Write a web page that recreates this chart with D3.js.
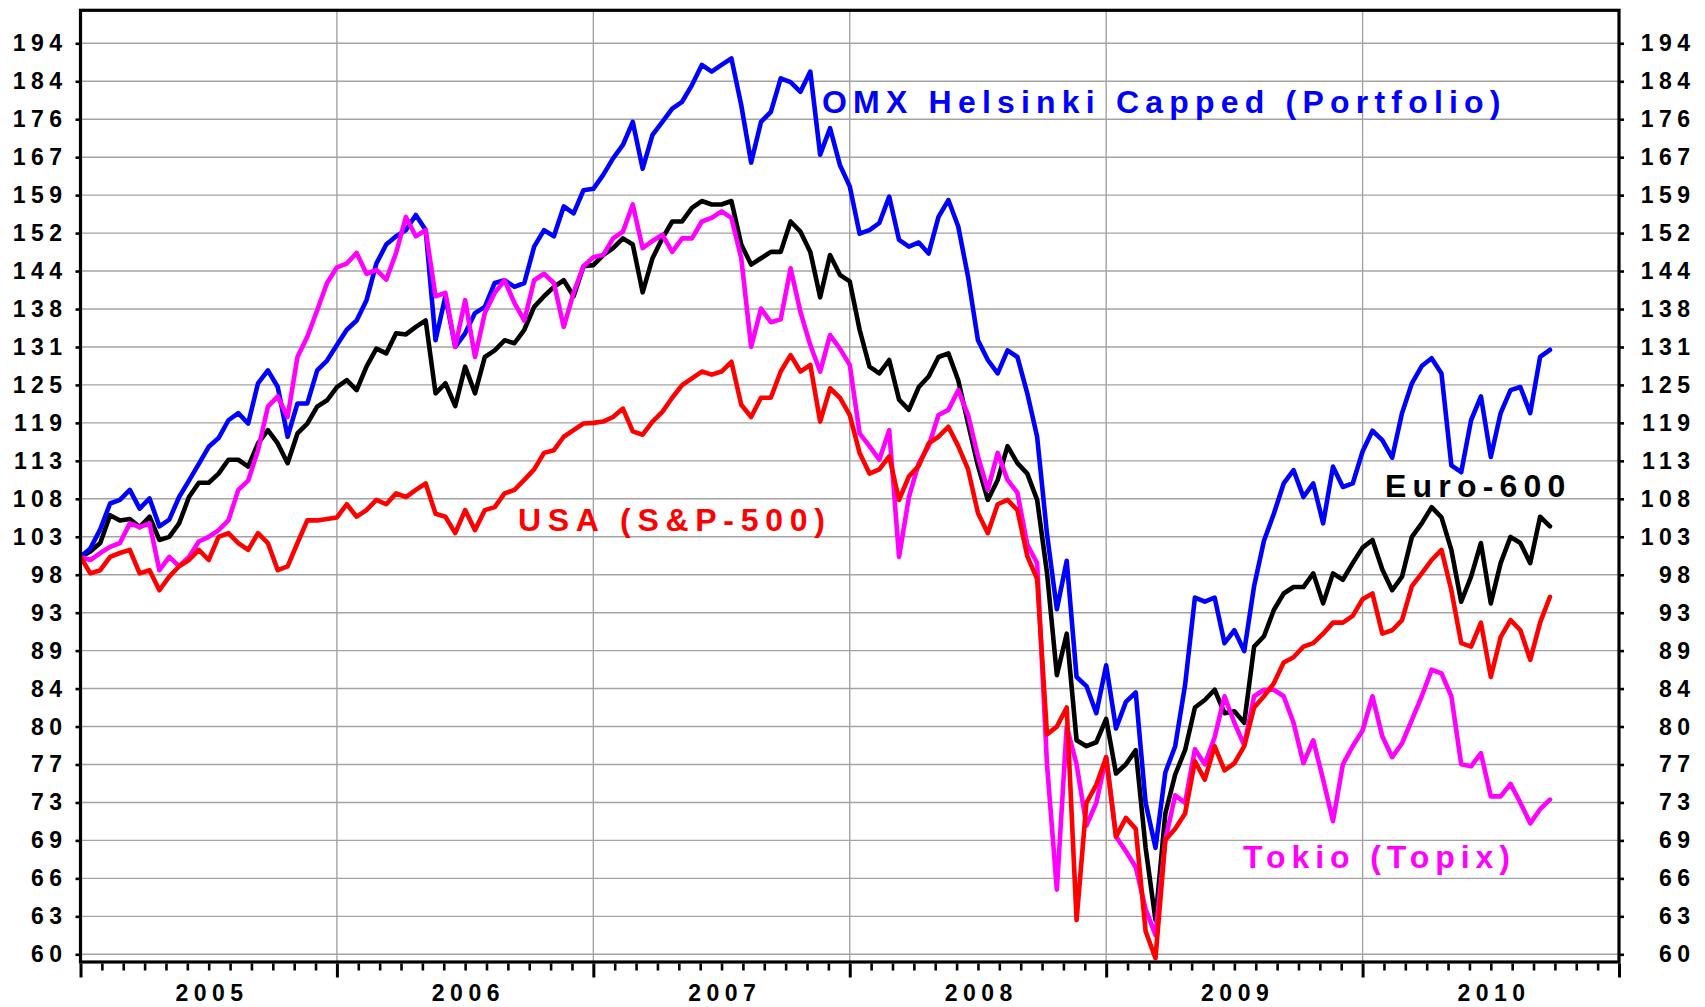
<!DOCTYPE html>
<html>
<head>
<meta charset="utf-8">
<script src="https://cdn.jsdelivr.net/npm/d3@7"></script>
<style>
  body { margin: 0; background: #fff; }
  svg { display: block; }
</style>
</head>
<body>
<svg id="chart" width="1705" height="1007"></svg>
<script>
// ---- data (index, start of 2005 = 100), one sample every two weeks ----
const years = [2005, 2006, 2007, 2008, 2009, 2010];
const yearLabels = ["2005", "2006", "2007", "2008", "2009", "2010"];
const samplesPerYear = 26;

const tickValues = [60, 63, 66.15, 69.46, 72.93, 76.58, 80.41, 84.43, 88.65, 93.08, 97.73, 102.62,
  107.75, 113.14, 118.8, 124.74, 130.97, 137.52, 144.4, 151.62, 159.2, 167.16, 175.52, 184.29, 193.51];
const tickLabels = ["60", "63", "66", "69", "73", "77", "80", "84", "89", "93", "98", "103",
  "108", "113", "119", "125", "131", "138", "144", "152", "159", "167", "176", "184", "194"];

const omx = [
  100, 101.1, 103.6, 107.1, 107.6, 109.0, 106.4, 107.8, 104.0, 104.9, 108.0, 110.3, 112.7, 115.2, 116.5, 119.2, 120.3, 118.7, 125.0, 127.1, 124.4, 116.7, 121.8, 121.8, 127.1, 128.7,
  131.3, 133.9, 135.5, 139.1, 145.8, 149.4, 151.0, 152.2, 155.2, 152.2, 132.1, 139.8, 131.0, 133.3, 136.8, 137.9, 142.2, 142.7, 141.5, 142.2, 149.0, 152.2, 151.0, 156.9, 155.5, 160.2,
  160.5, 163.4, 166.9, 169.8, 174.9, 164.7, 172.0, 174.9, 177.9, 179.5, 183.4, 188.2, 186.6, 188.2, 189.8, 178.7, 166.0, 174.9, 177.2, 185.0, 184.1, 181.8, 186.6, 167.7, 173.5, 165.5,
  161.0, 151.5, 152.2, 153.6, 158.9, 150.3, 149.0, 149.8, 147.7, 154.8, 158.2, 152.9, 143.3, 132.1, 128.8, 126.6, 130.4, 129.3, 123.4, 116.7, 103.0, 93.5, 99.5, 85.7, 84.7, 81.8,
  87.0, 80.2, 83.0, 84.0, 72.9, 68.8, 75.8, 78.4, 84.8, 94.9, 94.4, 94.9, 89.5, 91.0, 88.6, 96.3, 102.1, 105.7, 109.9, 111.8, 108.0, 109.9, 104.4, 112.3, 109.4, 109.9,
  114.5, 117.6, 116.2, 113.6, 120.3, 125.0, 127.8, 129.1, 126.6, 112.5, 111.5, 119.2, 122.9, 113.7, 120.3, 123.9, 124.4, 120.3, 129.3, 130.5
];

const euro600 = [
  100, 100.7, 101.8, 105.5, 104.8, 105.0, 103.9, 105.3, 102.2, 102.6, 104.4, 108.0, 110.0, 110.0, 111.3, 113.3, 113.3, 112.3, 115.7, 117.7, 115.7, 112.8, 117.2, 118.7, 121.3, 122.3,
  124.4, 125.5, 123.9, 127.7, 130.7, 129.9, 133.3, 133.1, 134.4, 135.5, 123.4, 125.0, 121.4, 127.7, 123.4, 129.3, 130.4, 132.1, 131.6, 133.9, 137.9, 139.8, 141.5, 142.7, 139.8, 145.3,
  145.5, 147.4, 148.7, 150.6, 149.4, 140.5, 146.8, 150.6, 153.9, 153.9, 156.6, 158.0, 157.3, 157.3, 158.0, 149.4, 145.6, 146.8, 148.0, 148.0, 153.9, 151.9, 148.0, 139.6, 147.4, 143.7,
  142.5, 133.9, 127.7, 126.6, 128.8, 122.4, 120.8, 124.4, 126.1, 129.3, 129.9, 125.5, 118.7, 112.4, 107.6, 110.4, 115.3, 112.8, 111.3, 107.6, 98.0, 85.9, 90.6, 79.0, 78.4, 78.8,
  81.2, 75.7, 76.6, 78.0, 68.8, 62.7, 71.9, 75.6, 78.0, 82.4, 83.2, 84.3, 81.8, 82.0, 80.8, 89.1, 90.3, 93.4, 95.4, 96.2, 96.2, 97.9, 94.2, 97.9, 97.1, 99.2,
  101.2, 102.2, 98.4, 95.8, 97.5, 102.6, 104.4, 106.6, 105.2, 100.9, 94.4, 97.5, 101.8, 94.2, 99.2, 102.6, 101.8, 99.2, 105.3, 104.0
];

const topix = [
  100, 99.6, 100.5, 101.3, 101.8, 104.4, 103.9, 104.4, 98.3, 100.0, 98.8, 100.0, 102.0, 102.6, 103.5, 104.8, 109.0, 110.3, 114.7, 121.3, 122.9, 119.7, 129.3, 132.7, 137.3, 142.2,
  145.1, 145.8, 147.8, 143.9, 144.6, 142.8, 147.8, 154.8, 151.0, 152.2, 139.8, 140.4, 131.0, 139.1, 129.3, 136.8, 140.4, 142.7, 138.6, 135.5, 142.7, 143.9, 142.2, 134.4, 140.4, 145.3,
  147.0, 147.4, 150.6, 151.9, 157.3, 148.7, 150.1, 151.3, 148.0, 150.6, 150.6, 153.9, 154.6, 155.9, 154.6, 146.8, 131.0, 137.6, 135.2, 135.7, 144.9, 137.0, 131.3, 126.9, 133.0, 130.7,
  128.0, 117.2, 115.3, 113.3, 117.7, 100.0, 108.0, 112.8, 115.3, 120.0, 120.8, 123.9, 120.0, 113.8, 109.0, 114.3, 110.4, 108.6, 101.6, 99.2, 76.6, 65.2, 80.4, 76.6, 70.8, 72.9,
  77.3, 69.8, 68.5, 67.1, 63.6, 61.5, 69.5, 73.6, 72.9, 78.1, 76.6, 79.3, 83.6, 80.8, 78.5, 83.6, 84.3, 84.3, 83.6, 80.8, 76.7, 79.0, 75.1, 71.2, 76.6, 78.4,
  80.0, 83.6, 79.4, 77.3, 78.7, 81.1, 83.6, 86.5, 86.1, 83.6, 76.6, 76.4, 77.7, 73.5, 73.5, 74.7, 72.9, 71.0, 72.3, 73.2
];

const sp500 = [
  100, 97.9, 98.3, 100.0, 100.5, 100.9, 97.9, 98.3, 95.8, 97.5, 98.8, 99.6, 100.9, 99.6, 102.6, 103.1, 101.8, 100.9, 103.1, 101.8, 98.3, 98.8, 101.8, 104.8, 104.8, 105.0,
  105.2, 107.0, 105.3, 106.2, 107.6, 107.0, 108.5, 108.0, 109.0, 109.9, 105.7, 105.3, 103.1, 106.2, 103.5, 106.2, 106.6, 108.5, 109.0, 110.4, 111.9, 114.3, 114.7, 116.7, 117.7, 118.7,
  118.8, 119.0, 119.7, 121.0, 117.5, 117.0, 119.0, 120.5, 122.7, 124.7, 125.8, 126.9, 126.4, 126.9, 128.5, 121.6, 119.7, 122.7, 122.7, 126.9, 129.6, 126.9, 128.0, 119.0, 124.2, 122.7,
  120.0, 114.3, 111.3, 111.9, 113.8, 107.6, 110.9, 112.4, 115.7, 116.7, 118.2, 115.3, 111.9, 105.8, 103.1, 107.0, 107.6, 106.2, 100.1, 97.2, 79.6, 80.4, 82.4, 62.7, 72.9, 74.6,
  77.3, 69.8, 71.5, 70.5, 61.8, 59.7, 69.5, 70.5, 71.9, 76.9, 75.1, 78.4, 76.0, 76.7, 78.4, 82.4, 83.6, 85.0, 87.3, 87.9, 89.1, 89.5, 90.6, 91.9, 91.9, 92.7,
  94.7, 95.4, 90.6, 91.0, 92.2, 96.3, 97.9, 99.6, 100.9, 95.8, 89.5, 89.1, 91.9, 85.7, 90.2, 92.2, 91.0, 87.6, 91.9, 95.0
];

// drawing order: last one ends up on top
const series = [
  { name: "Euro-600", values: euro600, color: "#000000" },
  { name: "OMX Helsinki Capped (Portfolio)", values: omx, color: "#0000ff" },
  { name: "Tokio (Topix)", values: topix, color: "#ff00ff" },
  { name: "USA (S&P-500)", values: sp500, color: "#ff0000" }
];

const labels = [
  { text: "OMX Helsinki Capped (Portfolio)", x: 822, y: 113, color: "#0000ff", spacing: 6.2 },
  { text: "USA (S&P-500)", x: 518, y: 531, color: "#ff0000", spacing: 6.7 },
  { text: "Euro-600", x: 1385, y: 497, color: "#000000", spacing: 6.2 },
  { text: "Tokio (Topix)", x: 1243, y: 868, color: "#ff00ff", spacing: 5.9 }
];

// ---- layout ----
const font = "'Liberation Sans', Arial, Helvetica, sans-serif";
const plotLeft = 80.5, plotRight = 1619, plotTop = 10.3, plotBottom = 962;
const axisFont = 23, axisSpacing = 5.5;

const svg = d3.select("#chart");

const x = d3.scaleLinear().domain([years[0], years[years.length - 1] + 1]).range([plotLeft, plotRight]);
const y = d3.scaleLog().domain([tickValues[0], tickValues[tickValues.length - 1]]).range([954.3, 43.3]);

// grid
const grid = svg.append("g").attr("stroke", "#a3a3a3").attr("stroke-width", 1.4);
grid.selectAll(".h").data(tickValues).enter().append("line")
  .attr("x1", plotLeft).attr("x2", plotRight)
  .attr("y1", d => y(d)).attr("y2", d => y(d));
grid.selectAll(".v").data(years.slice(1)).enter().append("line")
  .attr("x1", d => x(d)).attr("x2", d => x(d))
  .attr("y1", plotTop).attr("y2", plotBottom);

// lines
svg.append("clipPath").attr("id", "plot")
  .append("rect").attr("x", plotLeft).attr("y", plotTop)
  .attr("width", plotRight - plotLeft).attr("height", plotBottom - plotTop);

const line = d3.line()
  .x((d, i) => x(years[0] + i / samplesPerYear))
  .y(d => y(d));

svg.append("g").attr("clip-path", "url(#plot)")
  .selectAll("path").data(series).enter().append("path")
  .attr("d", d => line(d.values))
  .attr("fill", "none")
  .attr("stroke", d => d.color)
  .attr("stroke-width", 4.6)
  .attr("stroke-linejoin", "round")
  .attr("stroke-linecap", "round");

// frame
svg.append("rect")
  .attr("x", plotLeft).attr("y", plotTop)
  .attr("width", plotRight - plotLeft).attr("height", plotBottom - plotTop)
  .attr("fill", "none").attr("stroke", "#000").attr("stroke-width", 3.2);

function styleAxis(g) {
  g.attr("font-family", font).attr("font-size", axisFont).attr("font-weight", "bold");
  g.select(".domain").remove();
  g.selectAll(".tick line").attr("stroke", "#000").attr("stroke-width", 2.6);
  g.selectAll(".tick text").attr("fill", "#000").attr("letter-spacing", axisSpacing);
}

// y axes (left and right)
const yFmt = (d, i) => tickLabels[i];
const yl = svg.append("g").attr("transform", `translate(${plotLeft},0)`)
  .call(d3.axisLeft(y).tickValues(tickValues).tickFormat(yFmt).tickSize(5).tickPadding(8));
styleAxis(yl);
yl.selectAll(".tick text").attr("dy", 7.5);

const yr = svg.append("g").attr("transform", `translate(${plotRight},0)`)
  .call(d3.axisRight(y).tickValues(tickValues).tickFormat(yFmt).tickSize(5));
styleAxis(yr);
yr.selectAll(".tick text").attr("dy", 7.5).attr("x", 1690 - plotRight + axisSpacing).attr("text-anchor", "end");

// x axis: month ticks, year ticks, year labels
const monthTicks = d3.range(1, years.length * 12).filter(m => m % 12 !== 0).map(m => years[0] + m / 12);
const yearTicks = years.concat([years[years.length - 1] + 1]);
const xBase = plotBottom + 1.5;

const xm = svg.append("g").attr("transform", `translate(0,${xBase})`)
  .call(d3.axisBottom(x).tickValues(monthTicks).tickSize(7).tickFormat(""));
styleAxis(xm);

const xy = svg.append("g").attr("transform", `translate(0,${xBase})`)
  .call(d3.axisBottom(x).tickValues(yearTicks).tickSize(14).tickFormat(""));
styleAxis(xy);
xy.selectAll(".tick line").attr("stroke-width", 3);

const xl = svg.append("g").attr("transform", `translate(0,${plotBottom})`)
  .call(d3.axisBottom(x).tickValues(years.map(v => v + 0.5)).tickSize(0).tickPadding(23)
    .tickFormat((d, i) => yearLabels[i]));
styleAxis(xl);
xl.selectAll(".tick text").attr("dx", axisSpacing / 2);

// series labels
svg.append("g").selectAll("text").data(labels).enter().append("text")
  .attr("x", d => d.x).attr("y", d => d.y)
  .attr("fill", d => d.color)
  .attr("font-family", font).attr("font-size", 32).attr("font-weight", "bold")
  .attr("letter-spacing", d => d.spacing)
  .text(d => d.text);
</script>
</body>
</html>
